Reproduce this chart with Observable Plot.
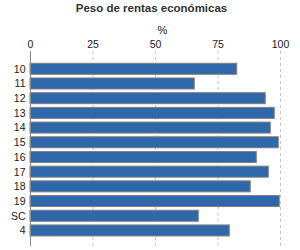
<!DOCTYPE html>
<html>
<head>
<meta charset="utf-8">
<script src="https://cdn.jsdelivr.net/npm/d3@7"></script>
<script src="https://cdn.jsdelivr.net/npm/@observablehq/plot@0.6"></script>
<style>
  html, body { margin: 0; padding: 0; background: #fff; }
  #chart svg { display: block; }
</style>
</head>
<body>
<div id="chart"></div>
<script>
const categories = ["10", "11", "12", "13", "14", "15", "16", "17", "18", "19", "SC", "4"];
const values = [82.7, 65.7, 94.1, 97.7, 96.1, 99.3, 90.5, 95.3, 88.1, 99.7, 67.3, 79.7];
const xTicks = [0, 25, 50, 75, 100];
const titleText = "Peso de rentas económicas";
const unitText = "%";

const data = categories.map((c, i) => ({category: c, value: values[i]}));

const chart = Plot.plot({
  width: 300,
  height: 250,
  marginTop: 51,
  marginBottom: 4,
  marginLeft: 30,
  marginRight: 20,
  style: {fontFamily: "'Liberation Sans', Arial, sans-serif", fontSize: "10.5px", color: "#222", background: "#fff"},
  x: {domain: [0, 100], ticks: xTicks, axis: "top", tickSize: 0, tickPadding: 4, label: null},
  y: {domain: categories, round: false, paddingInner: 0.25, paddingOuter: 0.76, align: 0.55, tickSize: 0, tickPadding: 5, label: null},
  marks: [
    Plot.gridX(xTicks.slice(1), {stroke: "#c8c8c8", strokeOpacity: 1, strokeDasharray: "3,3"}),
    Plot.barX(data, {x: "value", y: "category", fill: "#2E67AA", stroke: "#808080", strokeWidth: 1}),
    Plot.ruleX([0], {stroke: "#8a8a8a"}),
    Plot.text([titleText], {frameAnchor: "top", dy: -40, dx: -4, lineAnchor: "bottom", fontWeight: "bold", fontSize: 11.5, fill: "#333"}),
    Plot.text([unitText], {frameAnchor: "top", dy: -18, dx: 7, lineAnchor: "bottom", fontSize: 11, fill: "#222"})
  ]
});
document.getElementById("chart").appendChild(chart);
</script>
</body>
</html>
